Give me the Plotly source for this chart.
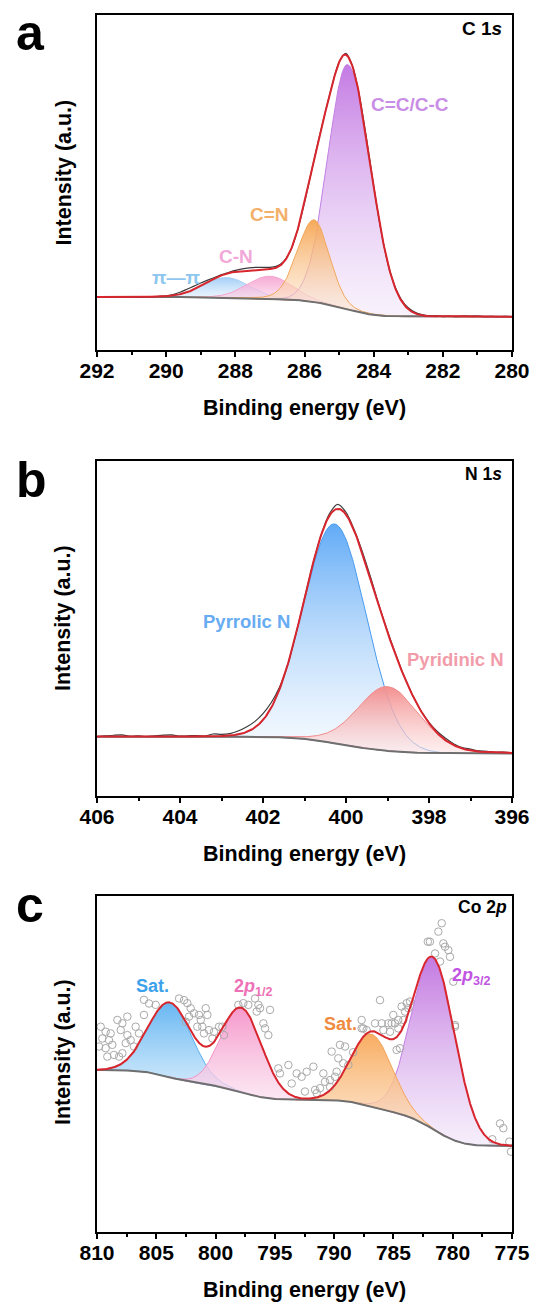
import numpy as np
import plotly.graph_objects as go

W, H = 536, 1305
FONT = "Liberation Sans, Arial, sans-serif"

# ---------------- panel a : C 1s ----------------
a_names = ["C=C/C-C", "C=N", "C-N", "π—π"]
a_center = [284.75, 285.72, 287.0, 288.25]
a_height = [73.0, 24.5, 6.8, 6.0]
a_sig_hi = [0.57, 0.48, 0.65, 0.67]   # high-BE side
a_sig_lo = [0.66, 0.44, 0.65, 0.67]   # low-BE side
a_mix = [0.0, 0.1, 0.0, 0.0]
a_base_ends = [15.8, 9.9]             # high-BE level, low-BE level
a_res = [0.0, 0.1, -0.1, 0.1, 0.0, 0.1, -0.1, 0.1, 0.0, 0.1,
         0.1, 0.3, 0.6, 0.9, 1.0, 0.9, 0.6, 0.3, 0.2, 0.2,
         0.4, 0.6, 0.7, 0.7, 0.6, 0.5, 0.4, 0.2, 0.0, 0.0,
         0.0, 0.0, 0.0, 0.0, 0.0, 0.1, 0.4, 0.2, 0.0, 0.0,
         0.0, 0.0, 0.1, 0.3, 0.4, 0.4, 0.3, 0.2, 0.1, 0.2,
         0.0, 0.1, 0.0, 0.2, 0.1, 0.2, 0.0, 0.1, 0.0, 0.1, 0.0]  # 292 -> 280, step 0.2

# ---------------- panel b : N 1s ----------------
b_names = ["Pyrrolic N", "Pyridinic N"]
b_center = [400.27, 399.0]
b_height = [65.5, 19.2]
b_sig_hi = [0.76, 0.72]
b_sig_lo = [0.76, 0.76]
b_mix = [0.0, 0.1]
b_base_ends = [17.7, 12.7]
b_res = [0.0, 0.2, 0.4, 0.5, 0.1, 0.2, 0.0, 0.2, 0.4, 0.5,
         0.1, 0.2, 0.3, 0.1, 0.7, 0.5, 0.6, 1.0, 1.5, 1.8,
         1.9, 1.5, 0.6, 0.0, 0.0, 0.0, 0.0, 0.0, 0.6, 1.3,
         0.7, 0.3, 0.5, 0.6, 0.3, 0.3, 0.4, 0.2, 0.1, 0.1,
         0.3, 0.5, 0.6, 0.4, 0.3, 0.4, 0.2, 0.3, 0.1, 0.2, 0.0]  # 406 -> 396, step 0.2

# ---------------- panel c : Co 2p ----------------
c_names = ["Sat.", "2p1/2", "Sat.", "2p3/2"]
c_center = [803.84, 797.8, 786.84, 781.63]
c_height = [22.2, 25.0, 21.5, 51.0]
c_sig_hi = [1.85, 1.72, 1.75, 1.83]
c_sig_lo = [1.85, 1.72, 1.75, 1.83]
c_mix = [0.0, 0.0, 0.0, 0.0]
c_base_ends = [48.2, 25.6]
c_raw_x = [
    809.69, 809.27, 808.85, 809.55, 808.99, 809.83, 809.27, 808.71, 809.13, 808.57,
    808.14, 807.86, 808.28, 807.86, 807.44, 808.00, 807.44, 807.16, 807.58, 806.88,
    806.74, 806.46, 806.04, 806.04, 805.61, 805.05, 803.08, 802.66, 802.38, 802.10,
    801.82, 802.24, 802.52, 801.40, 801.25, 800.83, 800.69, 801.54, 801.12, 800.98,
    800.55, 800.13, 800.27, 799.71, 799.43, 799.29,
    798.08, 797.66, 797.24, 796.67, 796.39, 796.25, 796.53, 795.41, 795.97, 795.83,
    795.55, 794.71, 794.57, 793.86, 793.16, 792.74, 792.32, 791.75, 793.58, 792.46,
    791.61, 791.19, 791.47, 790.91, 790.77, 790.35, 790.21, 789.51, 789.65, 789.23,
    788.80, 789.79, 789.93, 790.35, 787.68, 787.68, 789.08, 788.40,
    780.93, 781.21, 781.92, 780.79, 780.65, 780.37, 780.23, 781.49, 781.07, 779.95,
    786.13, 783.60, 783.74, 784.02, 785.01, 784.59, 784.16, 784.87, 785.43, 785.99,
    786.55, 785.85, 785.29, 784.59, 787.26, 784.73, 784.45, 779.81, 776.01, 775.73,
    776.66, 775.23, 775.09, 782.10, 784.31, 783.88, 785.15, 787.54, 779.81]
c_raw_y = [
    61.1, 59.6, 59.1, 57.6, 57.1, 55.2, 54.7, 55.7, 52.2, 52.7,
    52.2, 53.2, 63.1, 62.1, 64.1, 60.1, 58.6, 57.1, 56.2, 55.2,
    61.1, 59.1, 64.6, 69.1, 68.0, 67.6, 69.5, 69.0, 68.1, 66.6,
    65.1, 64.1, 62.6, 64.6, 63.1, 66.6, 64.6, 61.1, 61.1, 59.1,
    60.1, 59.6, 57.6, 61.1, 61.1, 58.6,
    67.6, 68.1, 67.6, 69.5, 67.6, 66.6, 65.6, 66.1, 62.1, 60.6,
    58.6, 48.7, 47.2, 49.7, 47.2, 46.2, 47.7, 49.2, 44.2, 41.8,
    42.3, 42.8, 41.3, 47.2, 44.7, 45.2, 53.7, 55.7, 51.7, 50.2,
    49.7, 47.7, 46.2, 43.2, 63.1, 60.6, 55.2, 53.5,
    91.9, 89.4, 86.4, 85.9, 84.9, 83.9, 81.9, 82.9, 80.5, 74.5,
    69.0, 68.6, 66.6, 65.6, 64.6, 63.1, 63.1, 62.1, 62.1, 62.1,
    62.1, 60.1, 59.6, 60.6, 60.1, 54.2, 54.7, 61.1, 32.3, 30.9,
    27.6, 26.9, 23.9, 86.4, 67.1, 68.1, 62.1, 60.6, 61.6]


def pv(x, c, h, shi, slo, m):
    s = np.where(x >= c, shi, slo)
    u2 = ((x - c) / s) ** 2
    return h * ((1 - m) * np.exp(-0.5 * u2) + m / (1 + u2 / (2 * np.log(2))))


def shirley(xg, total, y_hi, y_lo):
    cum = np.concatenate([[0.0], np.cumsum(0.5 * (total[1:] + total[:-1]) * np.diff(xg))])
    return y_lo + (y_hi - y_lo) * cum / cum[-1]


fig = go.Figure()


def panel(ax, xlo, xhi, n, centers, heights, shi, slo, mix, ends,
          tops, bots, lines, order, res=None, scat=None):
    xa = "x" + ("" if ax == 1 else str(ax))
    ya = "y" + ("" if ax == 1 else str(ax))
    xg = np.linspace(xlo, xhi, n)
    comps = [pv(xg, c, h, s1, s2, m) for c, h, s1, s2, m in zip(centers, heights, shi, slo, mix)]
    total = sum(comps)
    base = shirley(xg, total, ends[0], ends[1])
    for i in order:
        p = comps[i]
        mask = p > 0.03
        xs = xg[mask]
        yt = (base + p)[mask]
        yb = base[mask]
        fig.add_trace(go.Scatter(
            x=np.concatenate([xs, xs[::-1]]), y=np.concatenate([yt, yb[::-1]]),
            mode="lines", fill="toself", line=dict(color=lines[i], width=1),
            fillgradient=dict(type="vertical", colorscale=[[0, bots[i]], [1, tops[i]]]),
            xaxis=xa, yaxis=ya, hoverinfo="skip"))
    fig.add_trace(go.Scatter(x=xg, y=base, mode="lines", line=dict(color="#6f6f6f", width=2),
                             xaxis=xa, yaxis=ya, hoverinfo="skip"))
    env = base + total
    if res is not None:
        step = (n - 1) // (len(res) - 1)
        xr = xg[::step]
        yr = env[::step] + np.array(res[::-1])
        fig.add_trace(go.Scatter(x=xr, y=yr, mode="lines",
                                 line=dict(color="#3c3c3c", width=1.2, shape="spline", smoothing=0.8),
                                 xaxis=xa, yaxis=ya, hoverinfo="skip"))
    if scat is not None:
        fig.add_trace(go.Scatter(x=scat[0], y=scat[1], mode="markers",
                                 marker=dict(symbol="circle-open", size=7.5, color="#a9a9a9",
                                             line=dict(width=1, color="#a9a9a9")),
                                 xaxis=xa, yaxis=ya, hoverinfo="skip"))
    fig.add_trace(go.Scatter(x=xg, y=env, mode="lines", line=dict(color="#d8262e", width=2),
                             xaxis=xa, yaxis=ya, hoverinfo="skip"))


panel(1, 280, 292, 601, a_center, a_height, a_sig_hi, a_sig_lo, a_mix, a_base_ends,
      ["rgba(194,118,226,0.97)", "rgba(246,166,84,0.97)", "rgba(246,164,210,0.95)", "rgba(160,205,246,0.95)"],
      ["rgba(238,222,248,0.40)", "rgba(253,232,210,0.45)", "rgba(252,222,238,0.45)", "rgba(220,236,252,0.45)"],
      ["#c27fe2", "#f0a85c", "#f3a6cf", "#a6cff4"],
      [3, 2, 0, 1], res=a_res)

panel(2, 396, 406, 501, b_center, b_height, b_sig_hi, b_sig_lo, b_mix, b_base_ends,
      ["rgba(92,168,246,0.97)", "rgba(243,140,140,0.97)"],
      ["rgba(235,244,254,0.45)", "rgba(253,226,226,0.55)"],
      ["#4a9bef", "#f28a8a"],
      [0, 1], res=b_res)

panel(3, 775, 810, 1751, c_center, c_height, c_sig_hi, c_sig_lo, c_mix, c_base_ends,
      ["rgba(98,180,242,0.97)", "rgba(245,150,202,0.97)", "rgba(248,170,92,0.97)", "rgba(194,118,224,0.97)"],
      ["rgba(196,228,250,0.70)", "rgba(251,221,238,0.70)", "rgba(252,221,190,0.70)", "rgba(240,228,248,0.60)"],
      ["#5ab0ee", "#f392c6", "#f5a35a", "#c27fe2"],
      [0, 1, 3, 2], scat=(c_raw_x, c_raw_y))

# ---------------- layout ----------------
XL, XR = 97, 512
boxes = [(14.7, 350), (461, 796), (896, 1232)]
ranges = [([292, 280], 2, 1), ([406, 396], 2, 1), ([810, 775], 5, 2.5)]

layout = dict(width=W, height=H, margin=dict(l=0, r=0, t=0, b=0, autoexpand=False), showlegend=False,
              paper_bgcolor="white", plot_bgcolor="white", hovermode=False)
for i, ((top, bot), (rng, dt, mdt)) in enumerate(zip(boxes, ranges)):
    sfx = "" if i == 0 else str(i + 1)
    layout["xaxis" + sfx] = dict(
        domain=[XL / W, XR / W], anchor="y" + sfx, range=rng, dtick=dt, tick0=rng[1],
        automargin=False, ticklabelstandoff=-4,
        showline=True, linecolor="black", linewidth=2, mirror=True,
        ticks="outside", ticklen=5, tickwidth=1.8, tickcolor="black",
        showgrid=False, zeroline=False,
        tickfont=dict(family=FONT, size=21, color="black", weight="bold"),
        minor=dict(ticks="outside", ticklen=3, tickwidth=1.5, tickcolor="black", dtick=mdt, showgrid=False))
    layout["yaxis" + sfx] = dict(
        domain=[1 - bot / H, 1 - top / H], anchor="x" + sfx, range=[0, 100], automargin=False,
        showline=True, linecolor="black", linewidth=2, mirror=True,
        ticks="", showticklabels=False, showgrid=False, zeroline=False)
fig.update_layout(**layout)


def ann(px, py, text, size, color, xanchor="center", angle=0):
    fig.add_annotation(x=px / W, y=1 - py / H, xref="paper", yref="paper", text=text,
                       showarrow=False, xanchor=xanchor, yanchor="middle", textangle=angle,
                       font=dict(family=FONT, size=size, color=color, weight="bold"))


# panel letters
ann(14, 33, "a", 50, "black", "left")
ann(14, 480, "b", 50, "black", "left")
ann(14, 905, "c", 50, "black", "left")
# axis titles
for (top, bot) in boxes:
    ann(304.5, bot + 58, "Binding energy (eV)", 21.5, "black")
ann(63, 172.5, "Intensity (a.u.)", 21.5, "black", angle=-90)
ann(63, 618, "Intensity (a.u.)", 21.5, "black", angle=-90)
ann(63, 1052, "Intensity (a.u.)", 21.5, "black", angle=-90)
# spectrum names
ann(504, 28.5, "C 1<i>s</i>", 19, "black", "right")
ann(504, 474, "N 1<i>s</i>", 17.5, "black", "right")
ann(509, 907, "Co 2<i>p</i>", 17.5, "black", "right")
# peak labels, panel a
ann(176.8, 277, "π—π", 19, "#8dc6ee")
ann(235.5, 256.7, "C-N", 19, "#f1a8d8")
ann(269.7, 214.7, "C=N", 19, "#f2b06a")
ann(409.5, 104.7, "C=C/C-C", 19, "#c98de6")
# panel b
ann(246.2, 621, "Pyrrolic N", 18.5, "#67acf2")
ann(455.4, 659, "Pyridinic N", 18.5, "#f29caa")
# panel c
ann(152.7, 985.8, "Sat.", 18, "#3ba1ea")
ann(253.4, 987, "2<i>p</i><sub>1/2</sub>", 18, "#ee70b6")
ann(340, 1024, "Sat.", 18, "#ef8b3e")
ann(471.9, 976, "2<i>p</i><sub>3/2</sub>", 18, "#c254e2")

fig.write_html("out.html", config={"displayModeBar": False},
               post_script="document.body.style.margin='0px';document.body.style.overflow='hidden';")
